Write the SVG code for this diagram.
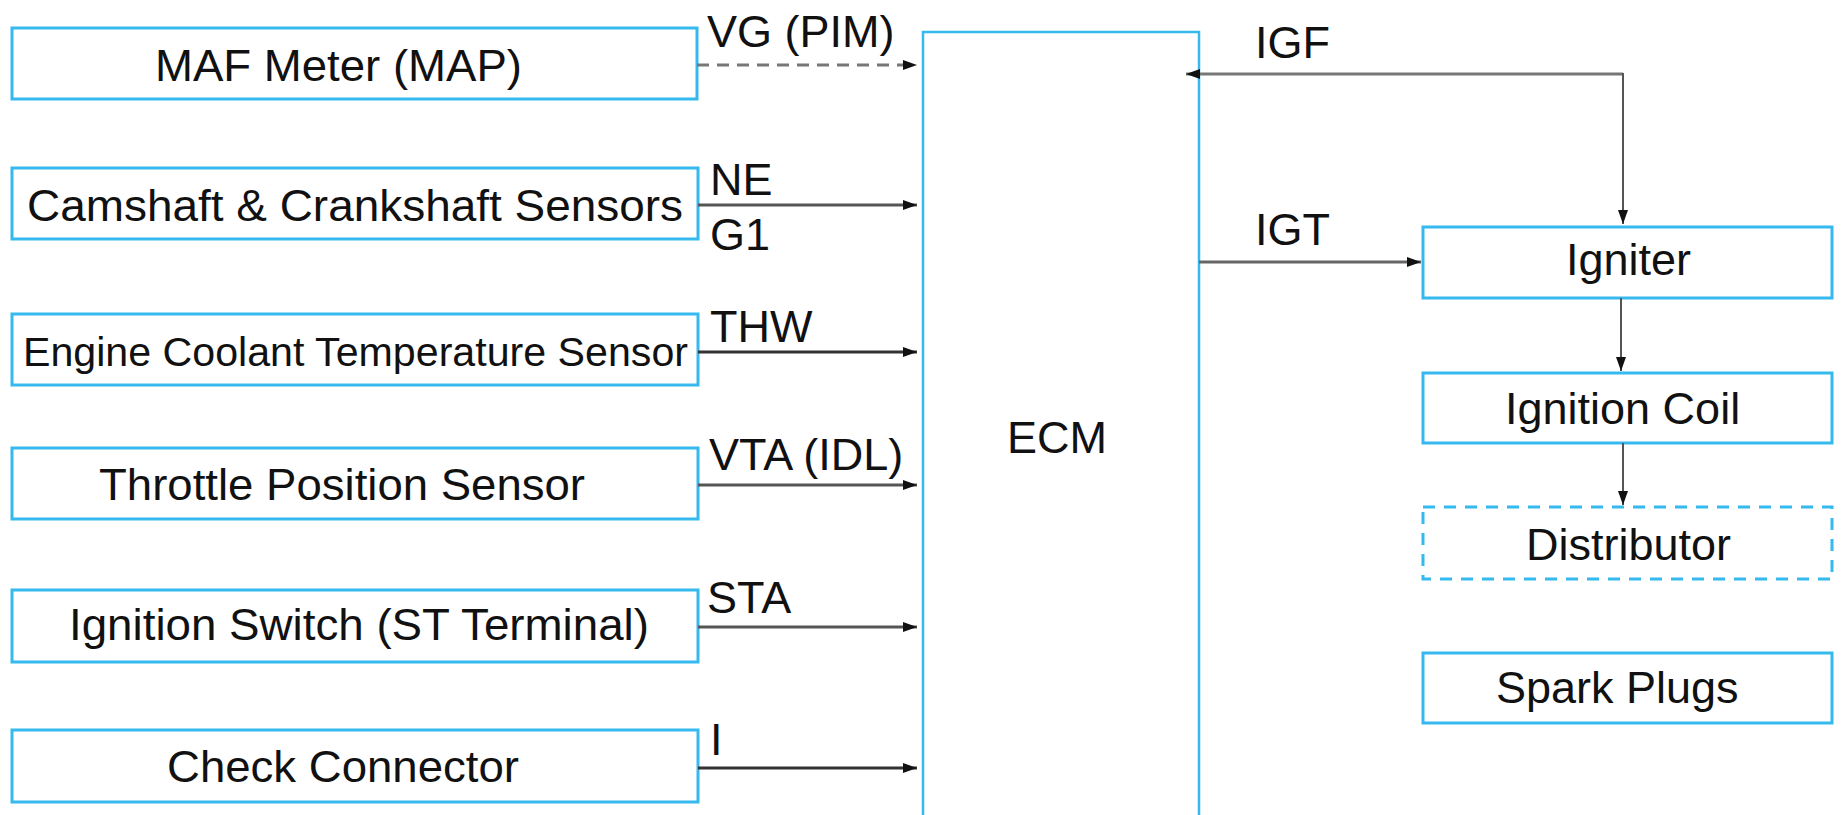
<svg xmlns="http://www.w3.org/2000/svg" width="1845" height="815" viewBox="0 0 1845 815">
<defs>
<style>
.box{fill:#fff;stroke:#35b9ee;stroke-width:3}
.dbox{fill:#fff;stroke:#35b9ee;stroke-width:3;stroke-dasharray:12 9}
.t{font-family:"Liberation Sans",Arial,Helvetica,sans-serif;font-size:45px;fill:#111}
.c{fill:none;stroke:#555;stroke-width:3}
.cv{fill:none;stroke:#555;stroke-width:2}
.cd{fill:none;stroke:#777;stroke-width:3;stroke-dasharray:12 8}
</style>
<marker id="ah" viewBox="0 0 14 10" refX="14" refY="5" markerWidth="14" markerHeight="10" markerUnits="userSpaceOnUse" orient="auto">
<path d="M0,0 L14,5 L0,10 z" fill="#111"/>
</marker>
</defs>
<rect width="1845" height="815" fill="#fff"/>

<g id="ecm">
<rect class="box" x="923" y="32" width="276" height="820" style="stroke-width:2.5"/>
<text class="t" x="1007" y="453">ECM</text>
</g>

<g id="maf">
<rect class="box" x="12" y="28" width="685" height="71"/>
<text class="t" x="155" y="81" textLength="367" lengthAdjust="spacingAndGlyphs">MAF Meter (MAP)</text>
</g>
<g id="cam">
<rect class="box" x="12" y="168" width="686" height="71"/>
<text class="t" x="27" y="221" textLength="656" lengthAdjust="spacingAndGlyphs">Camshaft &amp; Crankshaft Sensors</text>
</g>
<g id="ect">
<rect class="box" x="12" y="314" width="686" height="71"/>
<text class="t" x="23" y="366" style="font-size:40.8px" textLength="665" lengthAdjust="spacingAndGlyphs">Engine Coolant Temperature Sensor</text>
</g>
<g id="tps">
<rect class="box" x="12" y="448" width="686" height="71"/>
<text class="t" x="99" y="500" textLength="486" lengthAdjust="spacingAndGlyphs">Throttle Position Sensor</text>
</g>
<g id="ignsw">
<rect class="box" x="12" y="590" width="686" height="72"/>
<text class="t" x="69" y="640" textLength="580" lengthAdjust="spacingAndGlyphs">Ignition Switch (ST Terminal)</text>
</g>
<g id="check">
<rect class="box" x="12" y="730" width="686" height="72"/>
<text class="t" x="167" y="782" textLength="352" lengthAdjust="spacingAndGlyphs">Check Connector</text>
</g>

<g id="igniter">
<rect class="box" x="1423" y="227" width="409" height="71"/>
<text class="t" x="1566" y="275">Igniter</text>
</g>
<g id="coil">
<rect class="box" x="1423" y="373" width="409" height="70"/>
<text class="t" x="1505" y="424">Ignition Coil</text>
</g>
<g id="distributor">
<rect class="dbox" x="1423" y="507" width="409" height="72"/>
<text class="t" x="1526" y="560">Distributor</text>
</g>
<g id="sparkplugs">
<rect class="box" x="1423" y="653" width="409" height="70"/>
<text class="t" x="1496" y="703">Spark Plugs</text>
</g>

<g id="connectors">
<line class="cd" x1="697" y1="65" x2="917" y2="65" marker-end="url(#ah)"/>
<line class="c" x1="698" y1="205" x2="917" y2="205" marker-end="url(#ah)"/>
<line class="c" x1="698" y1="352" x2="917" y2="352" marker-end="url(#ah)" style="stroke:#333"/>
<line class="c" x1="698" y1="485" x2="917" y2="485" marker-end="url(#ah)"/>
<line class="c" x1="698" y1="627" x2="917" y2="627" marker-end="url(#ah)"/>
<line class="c" x1="698" y1="768" x2="917" y2="768" marker-end="url(#ah)" style="stroke:#333"/>
<line class="c" x1="1623" y1="74" x2="1186" y2="74" marker-end="url(#ah)" style="stroke:#777"/>
<line class="cv" x1="1623" y1="73" x2="1623" y2="224" marker-end="url(#ah)"/>
<line class="c" x1="1199" y1="262" x2="1421" y2="262" marker-end="url(#ah)" style="stroke:#666"/>
<line class="cv" x1="1621" y1="298" x2="1621" y2="371" marker-end="url(#ah)"/>
<line class="cv" x1="1623" y1="443" x2="1623" y2="505" marker-end="url(#ah)"/>
<text class="t" x="707" y="47">VG (PIM)</text>
<text class="t" x="710" y="195">NE</text>
<text class="t" x="710" y="250">G1</text>
<text class="t" x="710" y="342">THW</text>
<text class="t" x="709" y="470">VTA (IDL)</text>
<text class="t" x="707" y="613">STA</text>
<text class="t" x="710" y="755">I</text>
<text class="t" x="1255" y="58">IGF</text>
<text class="t" x="1255" y="245">IGT</text>
</g>
</svg>
